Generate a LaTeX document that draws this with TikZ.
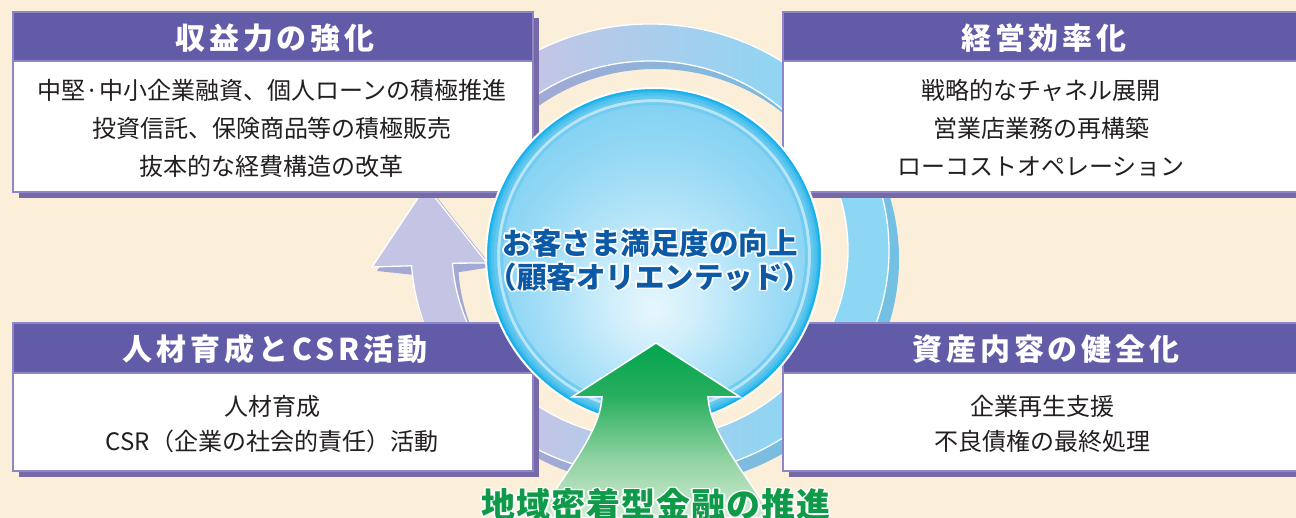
\documentclass[tikz,border=0pt]{standalone}
\usepackage{fontspec}
\usetikzlibrary{shadows}
\newfontfamily\jp{Noto Sans CJK JP}
\newfontfamily\jphdr{Noto Sans CJK JP}[LetterSpace=13]
\newfontfamily\jpgrn{Noto Sans CJK JP}[LetterSpace=3]
\definecolor{bg}{HTML}{FCEFDA}
\definecolor{hdr}{HTML}{625CA8}
\definecolor{bdr}{HTML}{8E86C6}
\definecolor{shd}{HTML}{7569A7}
\definecolor{txt}{HTML}{231F20}
\definecolor{blu}{HTML}{0C59A6}
\definecolor{grn}{HTML}{0E9A48}
\definecolor{lav}{HTML}{C4C5E5}
\definecolor{sky}{HTML}{8DD6F4}
\definecolor{lavd}{HTML}{A3A9D3}
\definecolor{skyd}{HTML}{74C0E2}
\definecolor{sA}{HTML}{E6F6FD}
\definecolor{sB}{HTML}{D2EFFB}
\definecolor{sC}{HTML}{B3E4F8}
\definecolor{sD}{HTML}{97D9F5}
\definecolor{sE}{HTML}{7ED0F2}
\definecolor{sF}{HTML}{18B0E8}
\definecolor{gA}{HTML}{D3ECD5}
\definecolor{gB}{HTML}{8FD2A0}
\definecolor{gC}{HTML}{27AE5E}
\definecolor{gD}{HTML}{03A44E}
\pgfdeclarehorizontalshading{ringsh}{100bp}{color(0bp)=(lav); color(40bp)=(lav); color(65bp)=(sky); color(100bp)=(sky)}
\pgfdeclarehorizontalshading{ringshd}{100bp}{color(0bp)=(lavd); color(40bp)=(lavd); color(65bp)=(skyd); color(100bp)=(skyd)}
\pgfdeclareradialshading{sphsh}{\pgfpoint{0bp}{-8bp}}{color(0bp)=(sA); color(6bp)=(sB); color(13bp)=(sC); color(20bp)=(sD); color(28bp)=(sE); color(50bp)=(sE)}
\pgfdeclareverticalshading{grnsh}{100bp}{color(0bp)=(gA); color(25bp)=(gA); color(42bp)=(gB); color(60bp)=(gC); color(75bp)=(gD); color(100bp)=(gD)}
\newcommand\halo[2]{\leavevmode
 \rlap{\kern1.8pt\textcolor{white}{#2}}%
 \rlap{\kern-1.8pt\textcolor{white}{#2}}%
 \rlap{\raisebox{1.8pt}{\textcolor{white}{#2}}}%
 \rlap{\raisebox{-1.8pt}{\textcolor{white}{#2}}}%
 \rlap{\kern1.3pt\raisebox{1.3pt}{\textcolor{white}{#2}}}%
 \rlap{\kern-1.3pt\raisebox{1.3pt}{\textcolor{white}{#2}}}%
 \rlap{\kern1.3pt\raisebox{-1.3pt}{\textcolor{white}{#2}}}%
 \rlap{\kern-1.3pt\raisebox{-1.3pt}{\textcolor{white}{#2}}}%
 \textcolor{#1}{#2}}
\begin{document}
\begin{tikzpicture}[x=1pt,y=1pt,
 panel/.style={fill=white, draw=bdr, line width=2pt, inner sep=0pt, anchor=north west,
   general shadow={fill=shd, shadow xshift=6pt, shadow yshift=-6pt}},
 hbar/.style={fill=hdr, draw=bdr, line width=2pt, inner sep=0pt, anchor=north west},
 htext/.style={text=white, font=\jphdr\bfseries\fontsize{30}{32}\selectfont, inner sep=0pt},
 btext/.style={text=txt, font=\jp\fontsize{24}{38}\selectfont, align=center, inner sep=0pt},
 rim/.style={line width=3.2pt},
]
\path[use as bounding box, fill=bg] (0,0) rectangle (1296,518);
\clip (0,0) rectangle (1296,518);
% ring shadow
\path[shade, shading=ringshd]
  (413.59,243.10) arc[start angle=184, end angle=490, x radius=243, y radius=228]
  -- (528.73,404.55) arc[start angle=490, end angle=184, x radius=198, y radius=190]
  -- (492,251) -- (431,328) -- (377,247) -- cycle;
% ring with arrow head
\path[shade, shading=ringsh, draw=white, line width=1.3pt]
  (411.58,252.23) arc[start angle=184, end angle=490, x radius=239, y radius=226]
  -- (522.73,412.78) arc[start angle=490, end angle=184, x radius=198, y radius=189]
  -- (487,255) -- (426,332) -- (372,251) -- cycle;
% panels
\node[panel, minimum width=520pt, minimum height=180pt] (tlp) at (12,507) {};
\node[hbar, minimum width=520pt, minimum height=49pt] (tlh) at (12,507) {};
\node[panel, minimum width=530pt, minimum height=180pt] (trp) at (782,507) {};
\node[hbar, minimum width=530pt, minimum height=49pt] (trh) at (782,507) {};
\node[panel, minimum width=520pt, minimum height=148pt] (blp) at (12,196) {};
\node[hbar, minimum width=520pt, minimum height=50pt] (blh) at (12,196) {};
\node[panel, minimum width=530pt, minimum height=148pt] (brp) at (782,196) {};
\node[hbar, minimum width=530pt, minimum height=50pt] (brh) at (782,196) {};
% header texts
\node[htext] (tlt) at (275,480) {収益力の強化};
\node[htext] (trt) at (1044,480) {経営効率化};
\node[htext] (blt) at (275,169) {人材育成とCSR活動};
\node[htext] (brt) at (1046,169) {資産内容の健全化};
% body texts
\node[btext] (tlb) at (272,390) {中堅·中小企業融資、個人ローンの積極推進\\投資信託、保険商品等の積極販売\\抜本的な経費構造の改革};
\node[btext] (trb) at (1041,390) {戦略的なチャネル展開\\営業店業務の再構築\\ローコストオペレーション};
\node[btext, font=\jp\fontsize{24}{35}\selectfont] (blb) at (272,94) {人材育成\\CSR（企業の社会的責任）活動};
\node[btext, font=\jp\fontsize{24}{35}\selectfont] (brb) at (1042,94) {企業再生支援\\不良債権の最終処理};
% sphere
\node[circle, minimum size=336pt, inner sep=0pt, shade, shading=sphsh] (sph) at (654,262) {};
\draw[rim, sF!12!sE] (sph.center) circle[radius=152.5];
\draw[rim, white!45!sE] (sph.center) circle[radius=155.5];
\draw[rim, sF!25!sE] (sph.center) circle[radius=158.5];
\draw[rim, sF!45!sE] (sph.center) circle[radius=161.5];
\draw[rim, sF!70!sE] (sph.center) circle[radius=164.5];
\draw[sF, line width=3pt] (sph.center) circle[radius=166.5];
\draw[white, line width=2pt] (sph.center) circle[radius=168];
\node[font=\jp\bfseries\fontsize{29.5}{34}\selectfont, align=center, inner sep=0pt] (ctext) at (650,258)
  {\halo{blu}{お客さま満足度の向上}\\\halo{blu}{（顧客オリエンテッド）}};
% green arrow
\path[shade, shading=grnsh, draw=white, line width=1.5pt]
  (537,0) .. controls (565,45) and (600,85) .. (602,121) -- (572,121) -- (656,175)
  -- (740,121) -- (708,121) .. controls (710,85) and (745,45) .. (773,0) -- cycle;
\node[font=\jpgrn\bfseries\fontsize{34}{36}\selectfont, inner sep=0pt] (gtext) at (656,13)
  {\halo{grn}{地域密着型金融の推進}};
\end{tikzpicture}
\end{document}
